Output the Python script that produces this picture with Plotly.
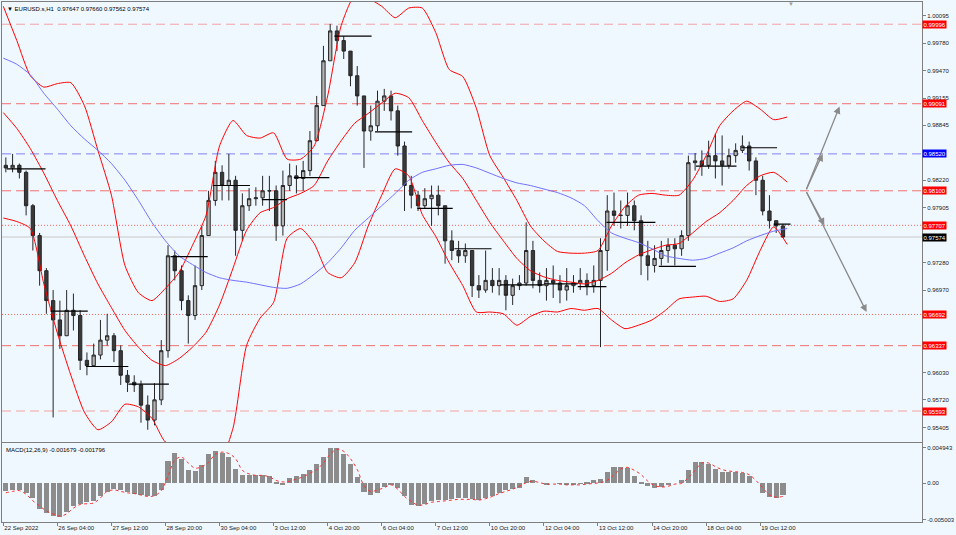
import plotly.graph_objects as go

# ---------------- data ----------------
symbol = "EURUSD.s,H1"
last_ohlc = [0.97647, 0.97660, 0.97562, 0.97574]
macd_name = "MACD(12,26,9)"
macd_last = [-0.001679, -0.001796]

x_tick_index = [0, 32, 64, 96, 128, 160, 192, 224, 256, 288, 320, 352, 384, 416, 448]
x_tick_labels = ["22 Sep 2022", "26 Sep 04:00", "27 Sep 12:00", "28 Sep 20:00", "30 Sep 04:00",
                 "3 Oct 12:00", "4 Oct 20:00", "6 Oct 04:00", "7 Oct 12:00", "10 Oct 20:00",
                 "12 Oct 04:00", "13 Oct 12:00", "14 Oct 20:00", "18 Oct 04:00", "19 Oct 12:00"]

bars_per_candle = 4
first_open = 0.9839
closes = [
    0.9836, 0.9839, 0.9831, 0.9793, 0.9759, 0.9719, 0.9685, 0.9663, 0.9645, 0.9674,
    0.9668, 0.9617, 0.9611, 0.9623, 0.9640, 0.9645, 0.9628, 0.9600, 0.9592, 0.9589,
    0.9566, 0.9549, 0.9572, 0.9628, 0.9736, 0.9719, 0.9685, 0.9668, 0.9702, 0.9759,
    0.9799, 0.9831, 0.9816, 0.9822, 0.9765, 0.9793, 0.9801, 0.9802, 0.9810, 0.9810,
    0.9770, 0.9816, 0.9827, 0.9824, 0.9833, 0.9867, 0.9907, 0.9958, 0.9992, 0.9981,
    0.9969, 0.9941, 0.9918, 0.9878, 0.9884, 0.9912, 0.9918, 0.9901, 0.9861, 0.9816,
    0.9805, 0.9793, 0.9801, 0.9805, 0.9793, 0.9753, 0.9742, 0.9736, 0.9742, 0.9702,
    0.9697, 0.9708, 0.9702, 0.9708, 0.9691, 0.9702, 0.9705, 0.9742, 0.9708, 0.9702,
    0.9708, 0.9705, 0.9697, 0.9702, 0.9705, 0.9708, 0.9702, 0.9708, 0.9742, 0.9787,
    0.9782, 0.9782, 0.9793, 0.9776, 0.9736, 0.9725, 0.9733, 0.9742, 0.9748, 0.9744,
    0.9759, 0.9842, 0.9844, 0.9839, 0.9850, 0.9844, 0.9839, 0.9850, 0.9856, 0.9861,
    0.9844, 0.9822, 0.9787, 0.9776, 0.9770, 0.97574]
highs = [
    0.9848, 0.9852, 0.9841, 0.9833, 0.9795, 0.9762, 0.9722, 0.9697, 0.9685, 0.9697,
    0.9693, 0.9674, 0.9626, 0.9636, 0.9663, 0.9670, 0.9648, 0.9634, 0.9606, 0.9600,
    0.9594, 0.9577, 0.9591, 0.9640, 0.9748, 0.9742, 0.9725, 0.9691, 0.9725, 0.9770,
    0.9810, 0.9844, 0.9839, 0.9852, 0.9827, 0.9807, 0.9813, 0.9814, 0.9827, 0.9827,
    0.9816, 0.9833, 0.9841, 0.9839, 0.9844, 0.9878, 0.9918, 0.9975, 1.0000, 0.9998,
    0.9986, 0.9969, 0.9952, 0.9918, 0.9907, 0.9924, 0.9926, 0.9924, 0.9907, 0.9866,
    0.9827, 0.9810, 0.9813, 0.9816, 0.9816, 0.9793, 0.9765, 0.9753, 0.9750, 0.9742,
    0.9714, 0.9742, 0.9722, 0.9722, 0.9714, 0.9710, 0.9714, 0.9774, 0.9753, 0.9717,
    0.9722, 0.9725, 0.9714, 0.9722, 0.9714, 0.9722, 0.9716, 0.9725, 0.9756, 0.9805,
    0.9808, 0.9799, 0.9808, 0.9799, 0.9782, 0.9753, 0.9748, 0.9753, 0.9756, 0.9756,
    0.9765, 0.9850, 0.9853, 0.9856, 0.9867, 0.9875, 0.9873, 0.9858, 0.9864, 0.9873,
    0.9866, 0.9848, 0.9827, 0.9805, 0.9776, 0.9772]
lows = [
    0.9831, 0.9831, 0.9824, 0.9782, 0.9742, 0.9702, 0.9670, 0.9552, 0.9630, 0.9645,
    0.9651, 0.9606, 0.9600, 0.9611, 0.9618, 0.9634, 0.9615, 0.9589, 0.9581, 0.9581,
    0.9546, 0.9538, 0.9543, 0.9566, 0.9620, 0.9708, 0.9674, 0.9636, 0.9663, 0.9697,
    0.9759, 0.9793, 0.9799, 0.9799, 0.9736, 0.9753, 0.9787, 0.9793, 0.9793, 0.9787,
    0.9753, 0.9759, 0.9810, 0.9807, 0.9810, 0.9827, 0.9867, 0.9907, 0.9958, 0.9969,
    0.9960, 0.9929, 0.9907, 0.9836, 0.9867, 0.9878, 0.9901, 0.9890, 0.9850, 0.9787,
    0.9790, 0.9787, 0.9790, 0.9770, 0.9782, 0.9727, 0.9731, 0.9728, 0.9728, 0.9689,
    0.9688, 0.9694, 0.9694, 0.9691, 0.9674, 0.9680, 0.9697, 0.9702, 0.9699, 0.9694,
    0.9685, 0.9688, 0.9682, 0.9685, 0.9694, 0.9697, 0.9691, 0.9694, 0.9632, 0.9719,
    0.9770, 0.9767, 0.9770, 0.9765, 0.9714, 0.9708, 0.9717, 0.9725, 0.9728, 0.9725,
    0.9736, 0.9753, 0.9833, 0.9827, 0.9835, 0.9824, 0.9816, 0.9835, 0.9842, 0.9853,
    0.9833, 0.9805, 0.9782, 0.9767, 0.9762, 0.97562]

band_step = 8
bb_upper = [
    1.0020, 0.9981, 0.9941, 0.9928, 0.9932, 0.9933, 0.9907, 0.9856, 0.9805, 0.9725,
    0.9694, 0.9685, 0.9699, 0.9717, 0.9748, 0.9782, 0.9861, 0.9890, 0.9873, 0.9870,
    0.9876, 0.9846, 0.9846, 0.9861, 0.9918, 0.9998, 1.0032, 1.0029, 1.0020, 1.0007,
    1.0018, 1.0018, 0.9990, 0.9948, 0.9940, 0.9904, 0.9850, 0.9825, 0.9799, 0.9770,
    0.9753, 0.9741, 0.9739, 0.9739, 0.9742, 0.9770, 0.9792, 0.9805, 0.9807, 0.9805,
    0.9805, 0.9822, 0.9850, 0.9884, 0.9901, 0.9912, 0.9903, 0.9891, 0.9894]
bb_middle = [
    0.9899, 0.9881, 0.9858, 0.9830, 0.9799, 0.9770, 0.9736, 0.9704, 0.9677, 0.9651,
    0.9632, 0.9617, 0.9611, 0.9619, 0.9632, 0.9649, 0.9680, 0.9722, 0.9765, 0.9785,
    0.9791, 0.9801, 0.9807, 0.9816, 0.9844, 0.9867, 0.9887, 0.9898, 0.9910, 0.9921,
    0.9916, 0.9890, 0.9865, 0.9842, 0.9824, 0.9799, 0.9774, 0.9753, 0.9733, 0.9719,
    0.9712, 0.9708, 0.9706, 0.9704, 0.9708, 0.9716, 0.9728, 0.9737, 0.9743, 0.9748,
    0.9750, 0.9762, 0.9775, 0.9785, 0.9799, 0.9816, 0.9827, 0.9831, 0.9820]
bb_lower = [
    0.9779, 0.9775, 0.9767, 0.9704, 0.9648, 0.9600, 0.9558, 0.9538, 0.9547, 0.9567,
    0.9564, 0.9551, 0.9524, 0.9522, 0.9516, 0.9516, 0.9501, 0.9540, 0.9634, 0.9665,
    0.9683, 0.9756, 0.9767, 0.9750, 0.9717, 0.9711, 0.9728, 0.9770, 0.9805, 0.9835,
    0.9827, 0.9783, 0.9758, 0.9728, 0.9702, 0.9672, 0.9672, 0.9670, 0.9657, 0.9667,
    0.9673, 0.9672, 0.9676, 0.9674, 0.9676, 0.9663, 0.9653, 0.9657, 0.9663, 0.9674,
    0.9687, 0.9689, 0.9690, 0.9684, 0.9687, 0.9708, 0.9742, 0.9769, 0.9749]
ma_blue = [
    0.9961, 0.9954, 0.9942, 0.9921, 0.9903, 0.9884, 0.9869, 0.9856, 0.9841, 0.9822,
    0.9799, 0.9774, 0.9753, 0.9736, 0.9726, 0.9717, 0.9711, 0.9708, 0.9706, 0.9703,
    0.9700, 0.9699, 0.9704, 0.9715, 0.9728, 0.9745, 0.9765, 0.9779, 0.9793, 0.9807,
    0.9822, 0.9831, 0.9835, 0.9839, 0.9840, 0.9836, 0.9830, 0.9824, 0.9819, 0.9816,
    0.9812, 0.9808, 0.9802, 0.9793, 0.9776, 0.9762, 0.9756, 0.9751, 0.9744, 0.9736,
    0.9733, 0.9731, 0.9733, 0.9739, 0.9745, 0.9753, 0.9759, 0.9764, 0.9767]

macd_hist = [
    -0.0011, -0.0010, -0.0009, -0.0013, -0.0020, -0.0035, -0.0041, -0.0045, -0.0046, -0.0040,
    -0.0032, -0.0028, -0.0026, -0.0025, -0.0017, -0.0012, -0.0008, -0.0010, -0.0012, -0.0015,
    -0.0016, -0.0018, -0.0017, -0.0009, 0.0030, 0.0041, 0.0033, 0.0018, 0.0017, 0.0025,
    0.0040, 0.0045, 0.0042, 0.0036, 0.0020, 0.0011, 0.0011, 0.0011, 0.0011, 0.0010,
    0.0002, -0.0002, 0.0007, 0.0010, 0.0013, 0.0018, 0.0027, 0.0036, 0.0048, 0.0048,
    0.0040, 0.0027, 0.0008, -0.0012, -0.0016, -0.0013, -0.0005, -0.0002, -0.0006, -0.0018,
    -0.0030, -0.0031, -0.0028, -0.0025, -0.0023, -0.0023, -0.0022, -0.0021, -0.0021, -0.0022,
    -0.0023, -0.0020, -0.0017, -0.0013, -0.0010, -0.0008, -0.0006, 0.0008, 0.0005, 0.0000,
    -0.0002, 0.0000, -0.0001, -0.0003, -0.0002, -0.0001, 0.0001, 0.0005, 0.0006, 0.0015,
    0.0022, 0.0022, 0.0021, 0.0010, 0.0001, -0.0004, -0.0006, -0.0005, -0.0002, 0.0000,
    0.0004, 0.0018, 0.0029, 0.0029, 0.0027, 0.0020, 0.0016, 0.0015, 0.0015, 0.0014,
    0.0010, 0.0000, -0.0013, -0.0019, -0.0020, -0.001679]
macd_signal = [
    -0.0013, -0.0011, -0.0010, -0.0015, -0.0024, -0.0031, -0.0038, -0.0042, -0.0045, -0.0042,
    -0.0034, -0.0029, -0.0028, -0.0027, -0.0020, -0.0011, -0.0009, -0.0011, -0.0013, -0.0014,
    -0.0016, -0.0018, -0.0017, -0.0010, 0.0010, 0.0032, 0.0036, 0.0028, 0.0021, 0.0023,
    0.0029, 0.0040, 0.0043, 0.0041, 0.0034, 0.0018, 0.0013, 0.0011, 0.0011, 0.0009,
    0.0004, 0.0002, 0.0003, 0.0006, 0.0009, 0.0014, 0.0019, 0.0028, 0.0040, 0.0047,
    0.0044, 0.0034, 0.0019, -0.0003, -0.0011, -0.0009, -0.0006, -0.0002, -0.0008, -0.0018,
    -0.0025, -0.0030, -0.0029, -0.0026, -0.0025, -0.0024, -0.0023, -0.0022, -0.0022, -0.0022,
    -0.0023, -0.0021, -0.0018, -0.0014, -0.0011, -0.0008, -0.0004, 0.0001, 0.0003, 0.0001,
    -0.0001, -0.0001, -0.0001, -0.0002, -0.0002, -0.0002, -0.0001, 0.0000, 0.0001, 0.0004,
    0.0012, 0.0020, 0.0022, 0.0018, 0.0012, 0.0003, -0.0003, -0.0005, -0.0004, -0.0001,
    0.0000, 0.0008, 0.0018, 0.0028, 0.0028, 0.0023, 0.0019, 0.0017, 0.0016, 0.0015,
    0.0012, 0.0004, -0.0006, -0.0016, -0.0019, -0.001796]

seg_start = [2, 28, 49, 74, 99, 124, 153, 172, 196, 220, 245, 267, 294, 320, 340, 357, 388, 410, 437, 456]
seg_end = [25, 50, 74, 98, 121, 146, 168, 193, 218, 242, 266, 289, 320, 340, 357, 386, 410, 434, 458, 466]
seg_level = [0.9835, 0.9673, 0.9610, 0.9590, 0.9735, 0.9816, 0.9800, 0.9825, 0.9986, 0.9877,
             0.9790, 0.9744, 0.9703, 0.9704, 0.9701, 0.9774, 0.9724, 0.9838, 0.9859, 0.9772]

red_dash_levels = [0.99996, 0.99091, 0.98100, 0.96337, 0.95593]
blue_dash_levels = [0.98520]
red_dot_levels = [0.97707, 0.96692]
bid_price = 0.97574

arrow_origin = [475, 0.98100]
arrow_up_x = [485, 495]
arrow_up_y = [0.98520, 0.9906]
arrow_dn_x = [486, 511]
arrow_dn_y = [0.97707, 0.9672]

price_ticks = [1.00095, 0.99780, 0.99470, 0.99155, 0.98845, 0.98220, 0.97905,
               0.97280, 0.96970, 0.96030, 0.95720, 0.95405]
price_range = [0.95239, 1.00249]
macd_ticks = [0.004943, 0.0, -0.005003]
macd_tick_labels = ["0.004943", "0.00", "-0.005003"]
macd_range = [-0.005314, 0.005533]
x_range = [-0.77, 543.8]

# ---------------- figure ----------------
FONT = "Liberation Sans"
BG = "#F0F8FF"
AX = "#7f7f7f"

opens = [first_open] + closes[:-1]
cx = [bars_per_candle * k + 1.5 for k in range(len(closes))]
bx = [band_step * j for j in range(len(bb_upper))]

fig = go.Figure()

# Bollinger bands and moving average
for arr in (bb_upper, bb_middle, bb_lower):
    fig.add_trace(go.Scatter(x=bx, y=arr, mode="lines", xaxis="x", yaxis="y",
                             line=dict(color="#ff0000", width=1, shape="spline", smoothing=0.6),
                             hoverinfo="skip", showlegend=False))
fig.add_trace(go.Scatter(x=bx, y=ma_blue, mode="lines", xaxis="x", yaxis="y",
                         line=dict(color="#7070ff", width=1, shape="spline", smoothing=0.6),
                         hoverinfo="skip", showlegend=False))

# candles
fig.add_trace(go.Candlestick(
    x=cx, open=opens, high=highs, low=lows, close=closes, xaxis="x", yaxis="y",
    increasing=dict(line=dict(color="#262626", width=1), fillcolor="#b4b4b4"),
    decreasing=dict(line=dict(color="#262626", width=1), fillcolor="#3a3a3a"),
    whiskerwidth=0, hoverinfo="skip", showlegend=False))

# pivot segments
sx, sy = [], []
for a, b, lv in zip(seg_start, seg_end, seg_level):
    sx += [a, b, None]
    sy += [lv, lv, None]
fig.add_trace(go.Scatter(x=sx, y=sy, mode="lines", xaxis="x", yaxis="y",
                         line=dict(color="#000000", width=1.2),
                         hoverinfo="skip", showlegend=False))

# MACD
fig.add_trace(go.Bar(x=cx, y=macd_hist, xaxis="x2", yaxis="y2", width=3.0,
                     marker=dict(color="#8c8c8c", line=dict(width=0)),
                     hoverinfo="skip", showlegend=False))
fig.add_trace(go.Scatter(x=cx, y=macd_signal, mode="lines", xaxis="x2", yaxis="y2",
                         line=dict(color="#ff3030", width=1, dash="dot", shape="spline"),
                         hoverinfo="skip", showlegend=False))

shapes = []
for i, lv in enumerate(red_dash_levels):
    col = "#f3a3a3" if i in (0, 4) else "#f07070"
    shapes.append(dict(type="line", xref="x domain", x0=0, x1=1, yref="y", y0=lv, y1=lv,
                       line=dict(color=col, width=1, dash="9px,5px"), layer="below"))
for lv in blue_dash_levels:
    shapes.append(dict(type="line", xref="x domain", x0=0, x1=1, yref="y", y0=lv, y1=lv,
                       line=dict(color="#8080f0", width=1, dash="9px,5px"), layer="below"))
for lv in red_dot_levels:
    shapes.append(dict(type="line", xref="x domain", x0=0, x1=1, yref="y", y0=lv, y1=lv,
                       line=dict(color="#ff6060", width=1, dash="1px,2px"), layer="below"))
shapes.append(dict(type="line", xref="x domain", x0=0, x1=1, yref="y", y0=bid_price, y1=bid_price,
                   line=dict(color="#c8c8c8", width=1), layer="below"))

annotations = []
# arrows
for xs, ys in ((arrow_up_x, arrow_up_y), (arrow_dn_x, arrow_dn_y)):
    for ex, ey in zip(xs, ys):
        annotations.append(dict(x=ex, y=ey, xref="x", yref="y", ax=arrow_origin[0], ay=arrow_origin[1],
                                axref="x", ayref="y", text="", showarrow=True, arrowhead=2,
                                arrowsize=1.1, arrowwidth=1.3, arrowcolor="#8a8a8a"))

# price labels on the right axis
def price_tag(p, bg):
    annotations.append(dict(x=1, xref="paper", xanchor="left", y=p, yref="y", yanchor="middle",
                            text=f"{p:.5f}", showarrow=False, bgcolor=bg, borderpad=0.5,
                            font=dict(family=FONT, size=6, color="#ffffff")))

for lv in red_dash_levels + red_dot_levels:
    price_tag(lv, "#ff0000")
for lv in blue_dash_levels:
    price_tag(lv, "#0000ff")
price_tag(bid_price, "#000000")

# header texts
annotations.append(dict(x=0, xref="paper", xanchor="left", xshift=3, y=1, yref="paper", yanchor="top",
                        yshift=-2, showarrow=False,
                        text="▼ " + symbol + "  " + " ".join(f"{v:.5f}" for v in last_ohlc),
                        font=dict(family=FONT, size=6, color="#000000")))
annotations.append(dict(x=0, xref="paper", xanchor="left", xshift=2, y=1, yref="y2 domain",
                        yanchor="top", yshift=-2, showarrow=False,
                        text=macd_name + " " + " ".join(f"{v:.6f}" for v in macd_last),
                        font=dict(family=FONT, size=6, color="#000000")))
# chart shift marker
annotations.append(dict(x=len(closes) * bars_per_candle + 2, xref="x", y=1, yref="paper",
                        yanchor="top", yshift=3, showarrow=False, text="▼",
                        font=dict(family=FONT, size=6, color="#a0a0a0")))

axis_common = dict(showgrid=False, zeroline=False, showline=True, linecolor=AX, linewidth=1,
                   mirror=True)

fig.update_layout(
    width=956, height=535,
    margin=dict(l=1, r=32, t=1, b=13),
    paper_bgcolor=BG, plot_bgcolor=BG,
    font=dict(family=FONT, size=6, color="#202020"),
    showlegend=False, bargap=0, hovermode=False,
    xaxis=dict(domain=[0, 1], anchor="y", range=x_range, showticklabels=False, ticks="",
               rangeslider=dict(visible=False), **axis_common),
    yaxis=dict(domain=[0.1536, 1], anchor="x", side="right", range=price_range,
               tickvals=price_ticks, ticktext=[f"{v:.5f}" for v in price_ticks],
               ticks="outside", ticklen=3, tickcolor=AX,
               tickfont=dict(family=FONT, size=6, color="#202020"), **axis_common),
    xaxis2=dict(domain=[0, 1], anchor="y2", range=x_range, matches="x",
                tickvals=x_tick_index, ticktext=x_tick_labels, ticks="outside", ticklen=3,
                tickcolor=AX, ticklabelposition="outside right",
                tickfont=dict(family=FONT, size=6, color="#202020"), **axis_common),
    yaxis2=dict(domain=[0, 0.1516], anchor="x2", side="right", range=macd_range,
                tickvals=macd_ticks, ticktext=macd_tick_labels, ticks="outside", ticklen=3,
                tickcolor=AX, tickfont=dict(family=FONT, size=6, color="#202020"), **axis_common),
    shapes=shapes,
    annotations=annotations,
)

fig.write_html("out.html", config={"displayModeBar": False},
               post_script="document.body.style.margin='0';document.body.style.overflow='hidden';"
                           "document.body.style.background='" + BG + "';")
